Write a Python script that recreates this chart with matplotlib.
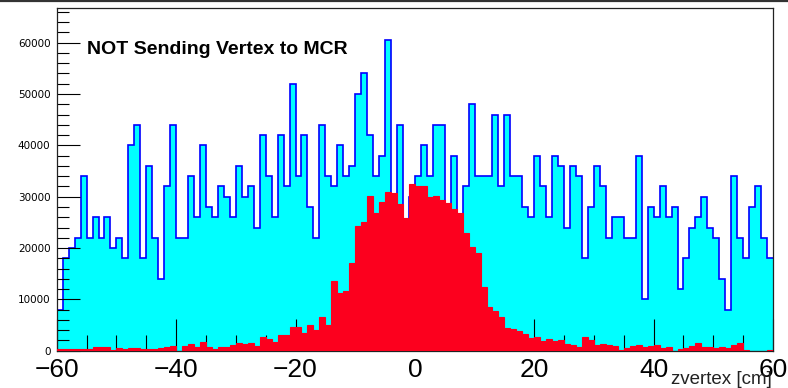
import numpy as np
import matplotlib
matplotlib.use("Agg")
import matplotlib.pyplot as plt
from matplotlib.lines import Line2D
from matplotlib.ticker import MultipleLocator, FuncFormatter

# z-vertex binning: 120 bins of 1 cm from -60 to 60
z_low, z_high, n_bins = -60, 60, 120

# Entries per bin, all events (cyan histogram)
counts_total = [
    8000, 18000, 20000, 22000, 34000, 22000, 26000, 22000, 26000, 20000,
    22000, 18000, 40000, 44000, 18000, 36000, 22000, 14000, 32000, 44000,
    22000, 22000, 34000, 26000, 40000, 28000, 26000, 32000, 30000, 26000,
    36000, 30000, 32000, 24000, 42000, 34000, 26000, 42000, 32000, 52000,
    34000, 42000, 28000, 22000, 44000, 34000, 32000, 40000, 34000, 36000,
    50000, 54000, 42000, 34000, 38000, 60600, 28000, 44000, 24000, 30000,
    34000, 40000, 34000, 44000, 44000, 26000, 38000, 24000, 32000, 48000,
    34000, 34000, 34000, 46000, 32000, 46000, 34000, 34000, 28000, 26000,
    38000, 32000, 26000, 38000, 36000, 24000, 36000, 34000, 18000, 28000,
    36000, 32000, 22000, 26000, 26000, 22000, 22000, 38000, 10000, 28000,
    26000, 32000, 26000, 28000, 12000, 18000, 24000, 26000, 30000, 24000,
    22000, 14000, 8000, 34000, 22000, 18000, 28000, 32000, 22000, 18000,
]

# Entries per bin, selected events (red histogram)
counts_selected = [
    400, 260, 400, 260, 400, 400, 650, 650, 650, 60,
    450, 400, 520, 520, 400, 260, 400, 580, 700, 900,
    0, 900, 1300, 650, 1750, 650, 270, 650, 780, 1100,
    1560, 1300, 1560, 900, 2700, 2200, 1750, 3050, 3050, 4700,
    4600, 3400, 5000, 4000, 6500, 5000, 13500, 11200, 11600, 17000,
    24200, 25000, 30100, 26900, 29000, 31000, 30800, 28500, 25800, 32400,
    32000, 32000, 30000, 30100, 29400, 28700, 27700, 26900, 22900, 20300,
    19000, 12500, 8600, 7700, 6500, 4500, 4200, 3900, 3250, 2400,
    2700, 1950, 2200, 1950, 2080, 1300, 1100, 780, 2600, 2080,
    1100, 1300, 1100, 900, 130, 450, 900, 1100, 650, 900,
    1200, 450, 780, 0, 260, 450, 900, 1560, 780, 650,
    450, 650, 450, 1100, 1430, 130, 0, 0, 0, 130,
]

title_text = "NOT Sending Vertex to MCR"
x_title = "zvertex [cm]"

edges = np.linspace(z_low, z_high, n_bins + 1)

fig = plt.figure(figsize=(7.88, 3.88), dpi=100)
ax = fig.add_axes([0.072, 0.0961, 0.909, 0.8825])

# total histogram: cyan fill with blue outline
ax.stairs(counts_total, edges, fill=True, color="#00ffff", zorder=1)
ax.stairs(counts_total, edges, baseline=None, color="#0000ff",
          linewidth=1.2, zorder=1.1)
# selected histogram drawn on top
ax.stairs(counts_selected, edges, fill=True, facecolor="#fc001e",
          edgecolor="#fc001e", linewidth=0.8, zorder=3)

ax.set_xlim(z_low, z_high)
ax.set_ylim(0, 66700)

ax.xaxis.set_major_locator(MultipleLocator(20))
ax.xaxis.set_minor_locator(MultipleLocator(5))
ax.yaxis.set_major_locator(MultipleLocator(10000))
ax.yaxis.set_minor_locator(MultipleLocator(2000))
ax.yaxis.set_major_formatter(FuncFormatter(lambda v, p: f"{int(round(v))}"))

ax.tick_params(axis="x", which="major", direction="in", length=23,
               width=0.8, color="black", pad=5, labelsize=19)
ax.tick_params(axis="x", which="minor", direction="in", length=11.5,
               width=0.8, color="black")
ax.tick_params(axis="y", which="major", direction="in", length=16.5,
               width=0.8, color="black", pad=4.5, labelsize=7.5)
ax.tick_params(axis="y", which="minor", direction="in", length=8.6,
               width=0.8, color="black")
ax.tick_params(top=False, right=False, which="both")

for lab in ax.get_xticklabels():
    lab.set_fontfamily("Liberation Sans")
for lab in ax.get_yticklabels():
    lab.set_fontfamily("DejaVu Sans")

for sp in ax.spines.values():
    sp.set_linewidth(0.9)
    sp.set_color("#222222")

fig.text(0.1104, 0.862, title_text, fontsize=14, fontweight="bold",
         family="Liberation Sans", ha="left", va="baseline")
fig.text(0.980, 0.0095, x_title, fontsize=13.5, family="Liberation Sans",
         ha="right", va="baseline", color="#222222")

# dark rule along the top edge of the canvas
fig.add_artist(Line2D([0, 1], [0.9965, 0.9965], color="#333333",
                      linewidth=1.6, transform=fig.transFigure))

fig.savefig("out.png", dpi=100)
